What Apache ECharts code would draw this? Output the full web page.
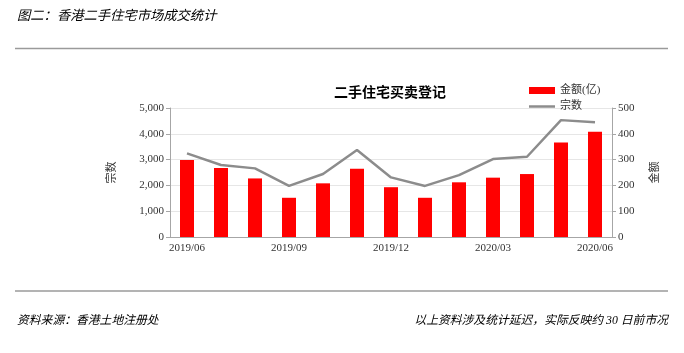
<!DOCTYPE html>
<html>
<head>
<meta charset="utf-8">
<script src="https://cdn.jsdelivr.net/npm/echarts@6/dist/echarts.min.js"></script>
<style>
  html, body { margin: 0; padding: 0; background: #fff; }
  #main { width: 684px; height: 353px; }
</style>
</head>
<body>
<div id="main"></div>
<script>
var months = ['2019/06', '2019/07', '2019/08', '2019/09', '2019/10', '2019/11', '2019/12',
    '2020/01', '2020/02', '2020/03', '2020/04', '2020/05', '2020/06'];
// 金额(亿), right axis
var amount = [298, 267, 227, 152, 208, 265, 193, 152, 212, 230, 244, 366, 408];
// 宗数, left axis
var deals = [3240, 2790, 2660, 1980, 2440, 3370, 2310, 1980, 2400, 3020, 3110, 4530, 4450];

var cjk = '"Liberation Serif", "Noto Sans CJK SC", serif';

var myChart = echarts.init(document.getElementById('main'));

var option = {
    animation: false,
    title: {
        text: '二手住宅买卖登记',
        left: 385,
        textAlign: 'center',
        top: 81,
        textStyle: { fontSize: 14, fontWeight: 'bold', color: '#000', fontFamily: cjk }
    },
    legend: {
        orient: 'vertical',
        left: 524,
        top: 80,
        itemWidth: 26,
        itemHeight: 7,
        itemGap: 5,
        textStyle: { fontSize: 11, color: '#333', fontFamily: cjk },
        data: [
            { name: '金额(亿)', icon: 'rect' },
            { name: '宗数', icon: 'path://M0,0 L26,0 L26,2.5 L0,2.5 Z' }
        ]
    },
    grid: { left: 170, right: 72, top: 108, bottom: 116 },
    xAxis: {
        type: 'category',
        data: months,
        axisLine: { lineStyle: { color: '#a6a6a6' } },
        axisTick: { interval: 0, length: 4, lineStyle: { color: '#a6a6a6' } },
        axisLabel: { interval: 2, fontSize: 11, color: '#333', fontFamily: cjk, margin: 6 }
    },
    yAxis: [
        {
            type: 'value',
            min: 0, max: 5000, interval: 1000,
            name: '宗数',
            nameLocation: 'middle',
            nameRotate: 90,
            nameGap: 52,
            nameTextStyle: { fontSize: 11, color: '#333', fontFamily: cjk },
            axisLine: { show: true, lineStyle: { color: '#a6a6a6' } },
            axisTick: { show: true, length: 4, lineStyle: { color: '#a6a6a6' } },
            axisLabel: {
                fontSize: 11, color: '#333', fontFamily: cjk, margin: 6,
                formatter: function (v) { return v.toLocaleString('en-US'); }
            },
            splitLine: { lineStyle: { color: '#e6e6e6' } }
        },
        {
            type: 'value',
            min: 0, max: 500, interval: 100,
            name: '金额',
            nameLocation: 'middle',
            nameRotate: 90,
            nameGap: 38,
            nameTextStyle: { fontSize: 11, color: '#333', fontFamily: cjk },
            axisLine: { show: true, lineStyle: { color: '#a6a6a6' } },
            axisTick: { show: true, length: 4, lineStyle: { color: '#a6a6a6' } },
            axisLabel: { fontSize: 11, color: '#333', fontFamily: cjk, margin: 6 },
            splitLine: { show: false }
        }
    ],
    series: [
        {
            name: '金额(亿)',
            type: 'bar',
            yAxisIndex: 1,
            data: amount,
            barWidth: 14,
            itemStyle: { color: '#ff0000' }
        },
        {
            name: '宗数',
            type: 'line',
            yAxisIndex: 0,
            data: deals,
            symbol: 'none',
            lineStyle: { color: '#8c8c8c', width: 2.5 },
            itemStyle: { color: '#8c8c8c' }
        }
    ],
    graphic: [
        {
            type: 'text', left: 17, top: 10,
            style: { text: '图二：香港二手住宅市场成交统计', fontSize: 13.3, fontStyle: 'italic', fill: '#000', fontFamily: cjk }
        },
        {
            type: 'line', shape: { x1: 15, y1: 48.5, x2: 668, y2: 48.5 },
            style: { stroke: '#9a9a9a', lineWidth: 1.5 }
        },
        {
            type: 'line', shape: { x1: 15, y1: 291, x2: 668, y2: 291 },
            style: { stroke: '#9a9a9a', lineWidth: 1.5 }
        },
        {
            type: 'text', left: 17, top: 315,
            style: { text: '资料来源：香港土地注册处', fontSize: 11.8, fontStyle: 'italic', fill: '#000', fontFamily: cjk }
        },
        {
            type: 'text', right: 16, top: 315,
            style: { text: '以上资料涉及统计延迟，实际反映约 30 日前市况', fontSize: 11.8, fontStyle: 'italic', fill: '#000', fontFamily: cjk }
        }
    ]
};

myChart.setOption(option);
</script>
</body>
</html>
